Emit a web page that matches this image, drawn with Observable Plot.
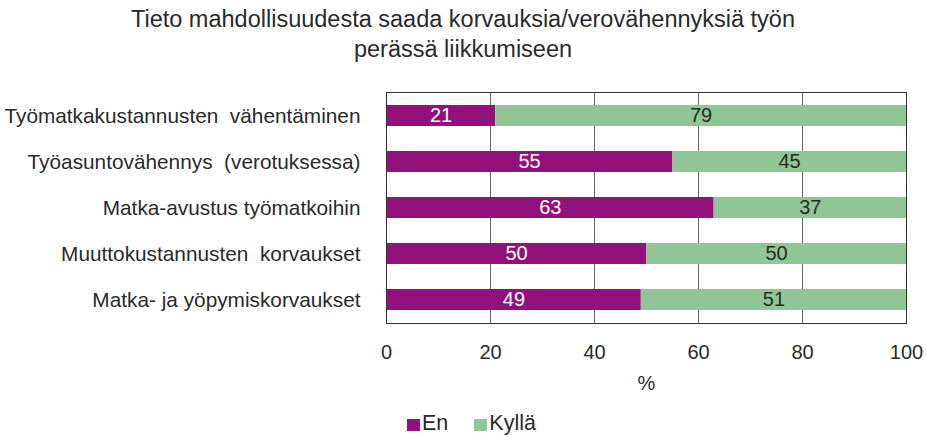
<!DOCTYPE html>
<html>
<head>
<meta charset="utf-8">
<script src="https://cdn.jsdelivr.net/npm/d3@7"></script>
<script src="https://cdn.jsdelivr.net/npm/@observablehq/plot@0.6"></script>
<style>
  html, body { margin: 0; padding: 0; background: #fff; }
  body { width: 926px; height: 435px; overflow: hidden; font-family: "Liberation Sans", Arial, sans-serif; color: #2a2a2a; position: relative; }
  #title { text-align: center; font-size: 23.5px; line-height: 30px; padding-top: 4px; height: 70px; box-sizing: border-box; }
  #chart svg { display: block; }
  #legend { display: flex; gap: 26px; font-size: 21.5px; position: absolute; left: 407px; top: 410px; align-items: center; line-height: 26px; }
  .sw { display: inline-block; width: 13px; height: 12px; margin-right: 2px; vertical-align: -1px; }
</style>
</head>
<body>
<div id="title">Tieto mahdollisuudesta saada korvauksia/verovähennyksiä työn<br>perässä liikkumiseen</div>
<div id="chart"></div>
<div id="legend"></div>
<script>
const categories = [
  "Työmatkakustannusten  vähentäminen",
  "Työasuntovähennys  (verotuksessa)",
  "Matka-avustus työmatkoihin",
  "Muuttokustannusten  korvaukset",
  "Matka- ja yöpymiskorvaukset"
];
const enValues = [21, 55, 63, 50, 49];
const kyllaValues = [79, 45, 37, 50, 51];
const seriesNames = ["En", "Kyllä"];
const seriesColors = ["#92117a", "#90c695"];
const xTicks = [0, 20, 40, 60, 80, 100];

const rows = categories.map((c, i) => ({cat: c, en: enValues[i], kylla: kyllaValues[i]}));
const long = [];
rows.forEach(r => {
  long.push({cat: r.cat, resp: seriesNames[0], value: r.en});
  long.push({cat: r.cat, resp: seriesNames[1], value: r.kylla});
});

const chart = Plot.plot({
  width: 926,
  height: 330,
  marginTop: 22,
  marginBottom: 77,
  marginLeft: 386,
  marginRight: 20,
  style: {fontFamily: "Liberation Sans, Arial, sans-serif", fontSize: "20px", color: "#2a2a2a", whiteSpace: "pre"},
  x: {domain: [0, 100], ticks: xTicks, tickSize: 0, tickPadding: 21, label: "%", labelAnchor: "center", labelArrow: "none", labelOffset: 66},
  y: {domain: categories, paddingInner: 0.55, paddingOuter: 0.275},
  color: {domain: seriesNames, range: seriesColors},
  marks: [
    Plot.gridX(xTicks, {stroke: "#666", strokeOpacity: 1, strokeWidth: 1}),
    Plot.barX(long, {x: "value", y: "cat", fill: "resp", order: seriesNames}),
    Plot.text(rows, {x: d => d.en / 2, y: "cat", text: "en", fill: "white"}),
    Plot.text(rows, {x: d => d.en + d.kylla / 2, y: "cat", text: "kylla", fill: "#2a2a2a"}),
    Plot.axisY({tickSize: 0, tickPadding: 26, label: null, fontSize: 20.8}),
    Plot.frame({stroke: "#333", strokeWidth: 1})
  ]
});
document.getElementById("chart").appendChild(chart);

const legend = document.getElementById("legend");
seriesNames.forEach((n, i) => {
  const s = document.createElement("span");
  s.innerHTML = `<span class="sw" style="background:${seriesColors[i]}"></span>${n}`;
  legend.appendChild(s);
});
</script>
</body>
</html>
